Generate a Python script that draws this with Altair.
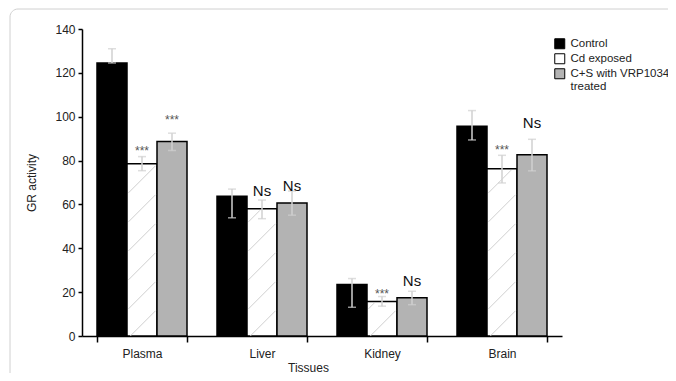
import altair as alt
import pandas as pd

tissues = ["Plasma", "Liver", "Kidney", "Brain"]
groups = ["Control", "Cd exposed", "C+S with VRP1034 treated"]

control = [124.5, 63.7, 23.5, 95.7]
cd_exposed = [78.5, 58.0, 15.7, 76.3]
cs_treated = [88.7, 60.6, 17.5, 82.6]

control_lo = [124.5, 53.9, 13.1, 89.4]
control_hi = [131.0, 67.0, 26.2, 102.8]
cd_lo = [75.4, 53.5, 13.6, 69.8]
cd_hi = [81.8, 62.0, 18.0, 82.4]
cs_lo = [84.6, 55.1, 14.3, 75.3]
cs_hi = [92.5, 66.1, 20.4, 89.7]

ann_tissue = ["Plasma", "Plasma", "Liver", "Liver", "Kidney", "Kidney", "Brain", "Brain"]
ann_group = ["Cd exposed", "C+S with VRP1034 treated"] * 4
ann_text = ["***", "***", "Ns", "Ns", "***", "Ns", "***", "Ns"]
ann_y = [82.5, 96.5, 63.7, 66.3, 17.5, 22.6, 82.9, 94.8]

rows = []
for series, vals, lo, hi in [
    (groups[0], control, control_lo, control_hi),
    (groups[1], cd_exposed, cd_lo, cd_hi),
    (groups[2], cs_treated, cs_lo, cs_hi),
]:
    for t, v, l, h in zip(tissues, vals, lo, hi):
        rows.append({"tissue": t, "group": series, "value": v, "lo": l, "hi": h})
df = pd.DataFrame(rows)

ann = pd.DataFrame({"tissue": ann_tissue, "group": ann_group, "label": ann_text, "y": ann_y})
ann["size"] = ["small" if s == "***" else "big" for s in ann_text]

FONT = "Liberation Sans"
PLOT_W, PLOT_H = 480, 307
Y_MAX = 140


# decorative diagonal hatch texture for the "Cd exposed" bars (follows each bar's height)
def hatch_path(value, half_w=13.5, period=29.0, phase=11.7):
    h = value * PLOT_H / Y_MAX - 1.5
    segs = []
    c = phase - period * 2
    while c < h + 2 * half_w + period:
        x_lo = max(-half_w, -c)
        x_hi = min(half_w, h - c)
        if x_hi - x_lo > 1:
            segs.append("M%.2f,%.2fL%.2f,%.2f" % (x_lo, -(x_lo + c), x_hi, -(x_hi + c)))
        c += period
    return "".join(segs) if segs else "M0,0"


hatch = pd.DataFrame({
    "tissue": tissues,
    "group": ["Cd exposed"] * 4,
    "base": [0] * 4,
    "path": [hatch_path(v) for v in cd_exposed],
})

x_enc = alt.X(
    "tissue:N",
    sort=tissues,
    scale=alt.Scale(paddingInner=0.25, paddingOuter=0.125),
    axis=alt.Axis(
        title="Tissues",
        labelAngle=0,
        tickBand="extent",
        tickSize=6,
        tickWidth=1.5,
        tickColor="black",
        domainColor="black",
        domainWidth=1.5,
        labelPadding=6,
        titlePadding=3,
        titleX=226,
    ),
)
xo_enc = alt.XOffset("group:N", sort=groups, scale=alt.Scale(paddingInner=0, paddingOuter=0))
y_scale = alt.Scale(domain=[0, Y_MAX], nice=False)

frame = alt.Chart(pd.DataFrame({"a": [0]})).mark_rect(
    fillOpacity=0, stroke="#d0d0d0", strokeWidth=1, cornerRadius=8
).encode(x=alt.value(-72), x2=alt.value(1200), y=alt.value(-20), y2=alt.value(800))

bars = alt.Chart(df).mark_bar(stroke="black", strokeWidth=1.5).encode(
    x=x_enc,
    xOffset=xo_enc,
    y=alt.Y(
        "value:Q",
        scale=y_scale,
        axis=alt.Axis(
            title="GR activity",
            values=[0, 20, 40, 60, 80, 100, 120, 140],
            grid=False,
            tickSize=4,
            tickWidth=1.5,
            tickColor="black",
            domainColor="black",
            domainWidth=1.5,
            labelPadding=3,
            titlePadding=16,
        ),
    ),
    color=alt.Color(
        "group:N",
        sort=groups,
        scale=alt.Scale(domain=groups, range=["#000000", "#ffffff", "#b3b3b3"]),
        legend=alt.Legend(
            title=None,
            orient="none",
            legendX=472,
            legendY=9,
            symbolType="square",
            symbolSize=100,
            symbolStrokeColor="black",
            symbolStrokeWidth=1,
            labelFontSize=11.5,
            labelFont=FONT,
            labelColor="#222",
            labelLimit=200,
            rowPadding=0,
            labelOffset=5,
            labelExpr="datum.label == 'C+S with VRP1034 treated' ? ['C+S with VRP1034', 'treated'] : datum.label",
        ),
    ),
)

hatch_layer = alt.Chart(hatch).mark_point(
    filled=False, stroke="#cfcfcf", strokeWidth=1, size=4, opacity=1
).encode(
    x=alt.X("tissue:N", sort=tissues),
    xOffset=alt.XOffset("group:N", sort=groups),
    y=alt.Y("base:Q", scale=y_scale),
    shape=alt.Shape("path:N", scale=None),
)

err = alt.Chart(df).mark_rule(color="#d0d0d0", strokeWidth=1.5).encode(
    x=alt.X("tissue:N", sort=tissues),
    xOffset=alt.XOffset("group:N", sort=groups),
    y=alt.Y("lo:Q", scale=y_scale),
    y2="hi:Q",
)
cap_lo = alt.Chart(df).mark_tick(color="#d0d0d0", thickness=1.5, size=8, orient="horizontal").encode(
    x=alt.X("tissue:N", sort=tissues),
    xOffset=alt.XOffset("group:N", sort=groups),
    y=alt.Y("lo:Q", scale=y_scale),
)
cap_hi = alt.Chart(df).mark_tick(color="#d0d0d0", thickness=1.5, size=8, orient="horizontal").encode(
    x=alt.X("tissue:N", sort=tissues),
    xOffset=alt.XOffset("group:N", sort=groups),
    y=alt.Y("hi:Q", scale=y_scale),
)

txt_small = alt.Chart(ann[ann["size"] == "small"]).mark_text(
    font=FONT, fontSize=12, color="#555", baseline="alphabetic"
).encode(
    x=alt.X("tissue:N", sort=tissues),
    xOffset=alt.XOffset("group:N", sort=groups),
    y=alt.Y("y:Q", scale=y_scale),
    text="label:N",
)
txt_big = alt.Chart(ann[ann["size"] == "big"]).mark_text(
    font=FONT, fontSize=15, color="#111", baseline="alphabetic"
).encode(
    x=alt.X("tissue:N", sort=tissues),
    xOffset=alt.XOffset("group:N", sort=groups),
    y=alt.Y("y:Q", scale=y_scale),
    text="label:N",
)

chart = alt.layer(frame, bars, hatch_layer, err, cap_lo, cap_hi, txt_small, txt_big).properties(
    width=PLOT_W,
    height=PLOT_H,
    autosize=alt.AutoSizeParams(type="none"),
    padding={"left": 74, "top": 21, "right": 106, "bottom": 37},
).configure_view(stroke=None).configure_axis(
    labelFont=FONT,
    titleFont=FONT,
    labelFontSize=12,
    titleFontSize=12,
    titleFontWeight="normal",
    labelColor="#222",
    titleColor="#222",
)

chart.save("out.html", embed_options={"renderer": "svg", "actions": False})
